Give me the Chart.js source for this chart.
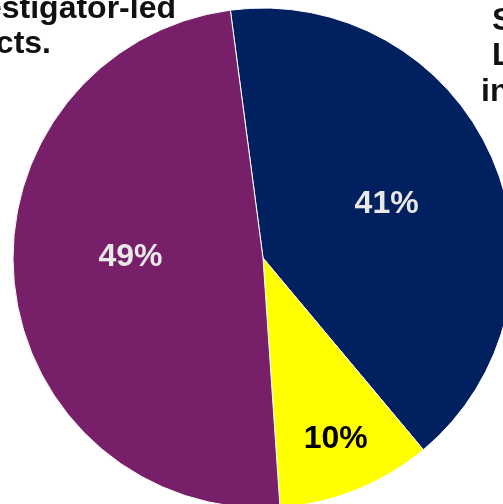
<!DOCTYPE html>
<html>
<head>
<meta charset="utf-8">
<script src="https://cdn.jsdelivr.net/npm/chart.js@4"></script>
<style>
  html, body { margin: 0; padding: 0; background: #fff; overflow: hidden; width: 503px; height: 504px; }
  #wrap { position: absolute; left: -7px; top: -12px; width: 540px; height: 540px; }
</style>
</head>
<body>
<div id="wrap"><canvas id="pie"></canvas></div>
<script>
// shares of projects
const categories = ['Sponsor-led', 'Other', 'Investigator-led'];
const shares = [41, 10, 49];
const shareLabels = ['41%', '10%', '49%'];
const colors = ['#002060', '#FFFF00', '#771F69'];

// page offset of the canvas (it is bigger than the window)
const offX = 7, offY = 12;

const sliceLabels = {
  id: 'sliceLabels',
  afterDatasetsDraw(chart) {
    const ctx = chart.ctx;
    const meta = chart.getDatasetMeta(0);
    const dist = [0.54, 0.78, 0.53];
    const turn = [0, 0, 6]; // degrees, nudges along the arc
    const txtColors = ['#e8e8e8', '#000000', '#e8e8e8'];
    ctx.save();
    ctx.font = 'bold 32px "Liberation Sans", Arial, sans-serif';
    ctx.textAlign = 'center';
    ctx.textBaseline = 'middle';
    meta.data.forEach((arc, i) => {
      const p = arc.getProps(['x', 'y', 'startAngle', 'endAngle', 'outerRadius'], true);
      const mid = (p.startAngle + p.endAngle) / 2 + turn[i] * Math.PI / 180;
      const r = p.outerRadius * dist[i];
      ctx.fillStyle = txtColors[i];
      ctx.fillText(shareLabels[i], p.x + Math.cos(mid) * r, p.y + Math.sin(mid) * r);
    });
    ctx.restore();
  }
};

// the captions round the pie, partly outside the picture
const captions = {
  id: 'captions',
  afterDraw(chart) {
    const ctx = chart.ctx;
    ctx.save();
    ctx.font = 'bold 32px "Liberation Sans", Arial, sans-serif';
    ctx.fillStyle = '#111';
    ctx.textBaseline = 'alphabetic';
    ctx.textAlign = 'right';
    ctx.fillText('Investigator-led', 176 + offX, 18 + offY);
    ctx.fillText('projects.', 51 + offX, 53 + offY);
    ctx.textAlign = 'left';
    ctx.fillText('Sponsor-', 492 + offX, 30 + offY);
    ctx.fillText('Led', 492 + offX, 65 + offY);
    ctx.fillText('industry', 481 + offX, 101 + offY);
    ctx.restore();
  }
};

new Chart(document.getElementById('pie'), {
  type: 'pie',
  data: {
    labels: categories,
    datasets: [{
      data: shares,
      backgroundColor: colors,
      borderColor: '#ffffff',
      borderWidth: 1
    }]
  },
  options: {
    responsive: true,
    maintainAspectRatio: false,
    animation: false,
    rotation: -7.5,
    radius: 250,
    layout: { padding: 0 },
    plugins: {
      legend: { display: false },
      tooltip: { enabled: false }
    }
  },
  plugins: [sliceLabels, captions]
});
</script>
</body>
</html>
